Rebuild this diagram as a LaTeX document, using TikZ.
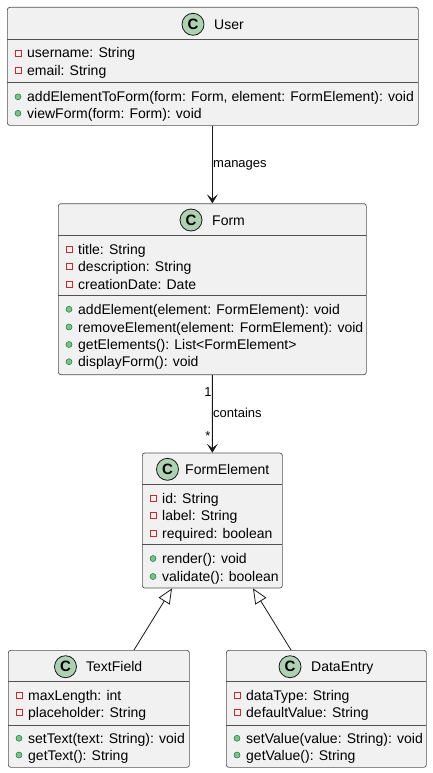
\documentclass[tikz,border=0pt]{standalone}
\usepackage{fontspec}
\setmainfont{Liberation Sans}
\usetikzlibrary{arrows.meta,calc}

\definecolor{boxfill}{HTML}{F1F1F1}
\definecolor{boxline}{HTML}{181818}
\definecolor{circfill}{HTML}{ADD1B2}
\definecolor{privred}{HTML}{C82930}
\definecolor{pubgreen}{HTML}{84BE84}
\definecolor{publine}{HTML}{038048}

\tikzset{
  classbox/.style={draw=boxline!75, fill=boxfill, rounded corners=2.5bp,
    line width=0.7bp, anchor=north west, inner sep=0pt},
  sepline/.style={draw=boxline!75, line width=0.7bp},
  cicon/.style={circle, draw=boxline, fill=circfill, minimum size=22bp,
    inner sep=0pt, line width=0.8bp, font=\bfseries\fontsize{15bp}{15bp}\selectfont},
  titletext/.style={anchor=base west, inner sep=0pt, font=\fontsize{14bp}{16bp}\selectfont},
  member/.style={anchor=base west, inner sep=0pt, font=\fontsize{14bp}{16bp}\selectfont},
  edgelabel/.style={inner sep=0pt, font=\fontsize{13bp}{15bp}\selectfont},
  privicon/.style={draw=privred, line width=0.7bp},
  pubicon/.style={draw=publine, fill=pubgreen, line width=0.5bp},
  assoc/.style={draw=boxline, line width=0.9bp,
    -{Stealth[length=9bp, width=11bp, inset=4.5bp, line width=0.6bp]}},
  inherit/.style={draw=boxline, line width=0.8bp,
    -{Triangle[open, length=15bp, width=13bp, fill=white]}},
}

% attribute row: name, box left, row centre, text
\newcommand\attrrow[4]{%
  \draw[privicon] ({#2+8},{#3-3}) rectangle ({#2+14},{#3+3});
  \node[member] (#1) at ({#2+20},{#3+5}) {#4};}
% operation row: name, box left, row centre, text
\newcommand\oprow[4]{%
  \fill[pubicon] ({#2+11},{#3}) circle (3bp);
  \node[member] (#1) at ({#2+20},{#3+5}) {#4};}

\begin{document}
\begin{tikzpicture}[x=1bp, y=-1bp]
  \fill[white] (0,0) rectangle (432,773);
  \useasboundingbox (0,0) rectangle (432,773);

  % ---- User ----
  \node[classbox, minimum width=411bp, minimum height=118bp] (user) at (7,7) {};
  \draw[sepline] (7,39.5) -- (418,39.5);
  \draw[sepline] (7,82.3) -- (418,82.3);
  \node[cicon] (user-c) at (193,24.3) {C};
  \node[titletext] (user-t) at (214,29.3) {User};
  \attrrow{user-a1}{7}{53}{username: String}
  \attrrow{user-a2}{7}{70.3}{email: String}
  \oprow{user-o1}{7}{96.8}{addElementToForm(form: Form, element: FormElement): void}
  \oprow{user-o2}{7}{113.3}{viewForm(form: Form): void}

  % ---- Form ----
  \node[classbox, minimum width=308bp, minimum height=171bp] (form) at (58,203.3) {};
  \draw[sepline] (58,235.7) -- (366,235.7);
  \draw[sepline] (58,295) -- (366,295);
  \node[cicon] (form-c) at (191,220) {C};
  \node[titletext] (form-t) at (212,225) {Form};
  \attrrow{form-a1}{58}{249}{title: String}
  \attrrow{form-a2}{58}{266.5}{description: String}
  \attrrow{form-a3}{58}{284}{creationDate: Date}
  \oprow{form-o1}{58}{309.3}{addElement(element: FormElement): void}
  \oprow{form-o2}{58}{327}{removeElement(element: FormElement): void}
  \oprow{form-o3}{58}{344.5}{getElements(): List<FormElement>}
  \oprow{form-o4}{58}{361.7}{displayForm(): void}

  % ---- FormElement ----
  \node[classbox, minimum width=140bp, minimum height=135bp] (felem) at (142,452.7) {};
  \draw[sepline] (142,484.3) -- (282,484.3);
  \draw[sepline] (142,544.3) -- (282,544.3);
  \node[cicon] (felem-c) at (167.5,469.3) {C};
  \node[titletext] (felem-t) at (185,474.3) {FormElement};
  \attrrow{felem-a1}{142}{498.3}{id: String}
  \attrrow{felem-a2}{142}{515.7}{label: String}
  \attrrow{felem-a3}{142}{533.3}{required: boolean}
  \oprow{felem-o1}{142}{558.5}{render(): void}
  \oprow{felem-o2}{142}{576.5}{validate(): boolean}

  % ---- TextField ----
  \node[classbox, minimum width=181bp, minimum height=117bp] (tfield) at (8,650) {};
  \draw[sepline] (8,681) -- (189,681);
  \draw[sepline] (8,725) -- (189,725);
  \node[cicon] (tfield-c) at (65.5,666.7) {C};
  \node[titletext] (tfield-t) at (86,671.7) {TextField};
  \attrrow{tfield-a1}{8}{695.7}{maxLength: int}
  \attrrow{tfield-a2}{8}{712.7}{placeholder: String}
  \oprow{tfield-o1}{8}{738.3}{setText(text: String): void}
  \oprow{tfield-o2}{8}{755}{getText(): String}

  % ---- DataEntry ----
  \node[classbox, minimum width=200bp, minimum height=117bp] (dentry) at (226,650) {};
  \draw[sepline] (226,681) -- (426,681);
  \draw[sepline] (226,725) -- (426,725);
  \node[cicon] (dentry-c) at (290,666.7) {C};
  \node[titletext] (dentry-t) at (311,671.7) {DataEntry};
  \attrrow{dentry-a1}{226}{695.7}{dataType: String}
  \attrrow{dentry-a2}{226}{712.7}{defaultValue: String}
  \oprow{dentry-o1}{226}{738.3}{setValue(value: String): void}
  \oprow{dentry-o2}{226}{755}{getValue(): String}

  % ---- relations ----
  \draw[assoc] (form.north |- user.south) -- (form.north);
  \node[edgelabel, anchor=base west] (lbl-manages) at (213,167.5) {manages};

  \draw[assoc] (form.south) -- (felem.north);
  \node[edgelabel, anchor=base] (lbl-one) at (208,396.5) {1};
  \node[edgelabel, anchor=base west] (lbl-contains) at (213,417.5) {contains};
  \node[edgelabel, anchor=base] (lbl-many) at (208,440) {*};

  \draw[inherit] ($(tfield.north west)+(126,0)$) -- ($(felem.south west)+(30,0)$);
  \draw[inherit] ($(dentry.north west)+(65,0)$) -- ($(felem.south west)+(111,0)$);
\end{tikzpicture}
\end{document}
